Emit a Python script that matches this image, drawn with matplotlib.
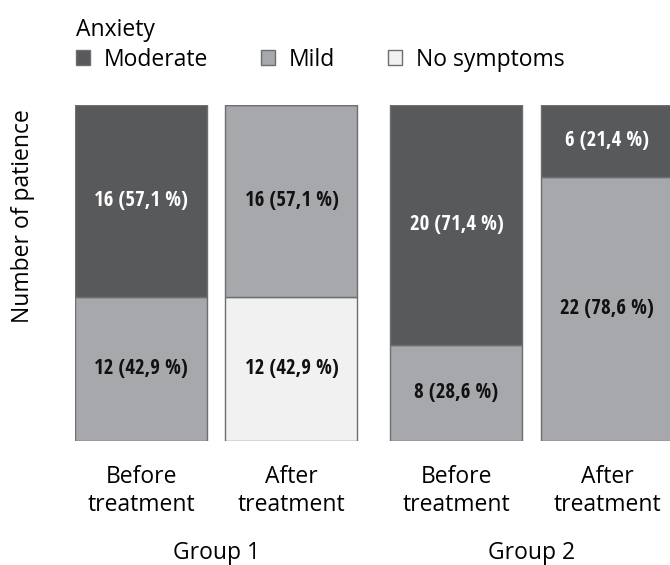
import matplotlib
matplotlib.use("Agg")
import matplotlib.pyplot as plt
from matplotlib.patches import Patch

categories = ["Before\ntreatment", "After\ntreatment", "Before\ntreatment", "After\ntreatment"]
groups = ["Group 1", "Group 2"]
moderate = [16, 0, 20, 6]
mild = [12, 16, 8, 22]
no_symptoms = [0, 12, 0, 0]
total = 28

series_names = ["Moderate", "Mild", "No symptoms"]
colors = {"Moderate": "#58595b", "Mild": "#a7a8ab", "No symptoms": "#f1f1f1"}
edge = "#6d6e70"

positions = [0, 1.14, 2.39, 3.53]

lab_family = ["Open Sans Condensed", "DejaVu Sans"]
body_font = ["Open Sans", "DejaVu Sans"]
fs = 16.5

fig = plt.figure(figsize=(6.7, 5.65), dpi=100)
ax = fig.add_axes([75/670, 1-441/565, 595/670, 336/565])

stack = [("No symptoms", no_symptoms), ("Mild", mild), ("Moderate", moderate)]
bottoms = [0]*4
for name, vals in stack:
    ax.bar(positions, vals, width=1.0, bottom=bottoms, color=colors[name],
           edgecolor=edge, linewidth=1.0)
    for i, v in enumerate(vals):
        if v > 0:
            pct = v / total * 100
            txt = f"{v} ({pct:.1f} %)".replace(".", ",")
            tc = "white" if name == "Moderate" else "#111111"
            ax.text(positions[i], bottoms[i] + v/2, txt, ha="center", va="center",
                    color=tc, fontsize=15, fontweight="bold", family=lab_family)
    bottoms = [b + v for b, v in zip(bottoms, vals)]

ax.set_xlim(-0.5, 595/132 - 0.5)
ax.set_ylim(0, total)
for s in ax.spines.values():
    s.set_visible(False)
ax.set_yticks([])
ax.set_xticks(positions)
ax.set_xticklabels(categories, fontsize=fs, family=body_font, linespacing=1.25)
ax.tick_params(axis="x", length=0, pad=17)

for g, (a, b) in zip(groups, [(0, 1), (2, 3)]):
    xc = (positions[a] + positions[b]) / 2
    ax.text(xc, (441-553)/336, g, transform=ax.get_xaxis_transform(), ha="center", va="center",
            fontsize=fs, family=body_font)

fig.text(23/670, 1-216/565, "Number of patience", rotation=90, ha="center", va="center",
         fontsize=fs, family=body_font)

handles = [Patch(facecolor=colors[n], edgecolor=edge, label=n) for n in series_names]
leg = fig.legend(handles=handles, title="Anxiety", loc="upper left",
                 bbox_to_anchor=(76/670, 1-18/565), ncol=3, frameon=False,
                 prop={"family": body_font, "size": fs},
                 title_fontproperties={"family": body_font, "size": fs},
                 handlelength=0.6, handleheight=0.6, handletextpad=0.6,
                 columnspacing=2.33, alignment="left", borderpad=0, borderaxespad=0,
                 labelspacing=0.25)

fig.savefig("out.png", dpi=100)
